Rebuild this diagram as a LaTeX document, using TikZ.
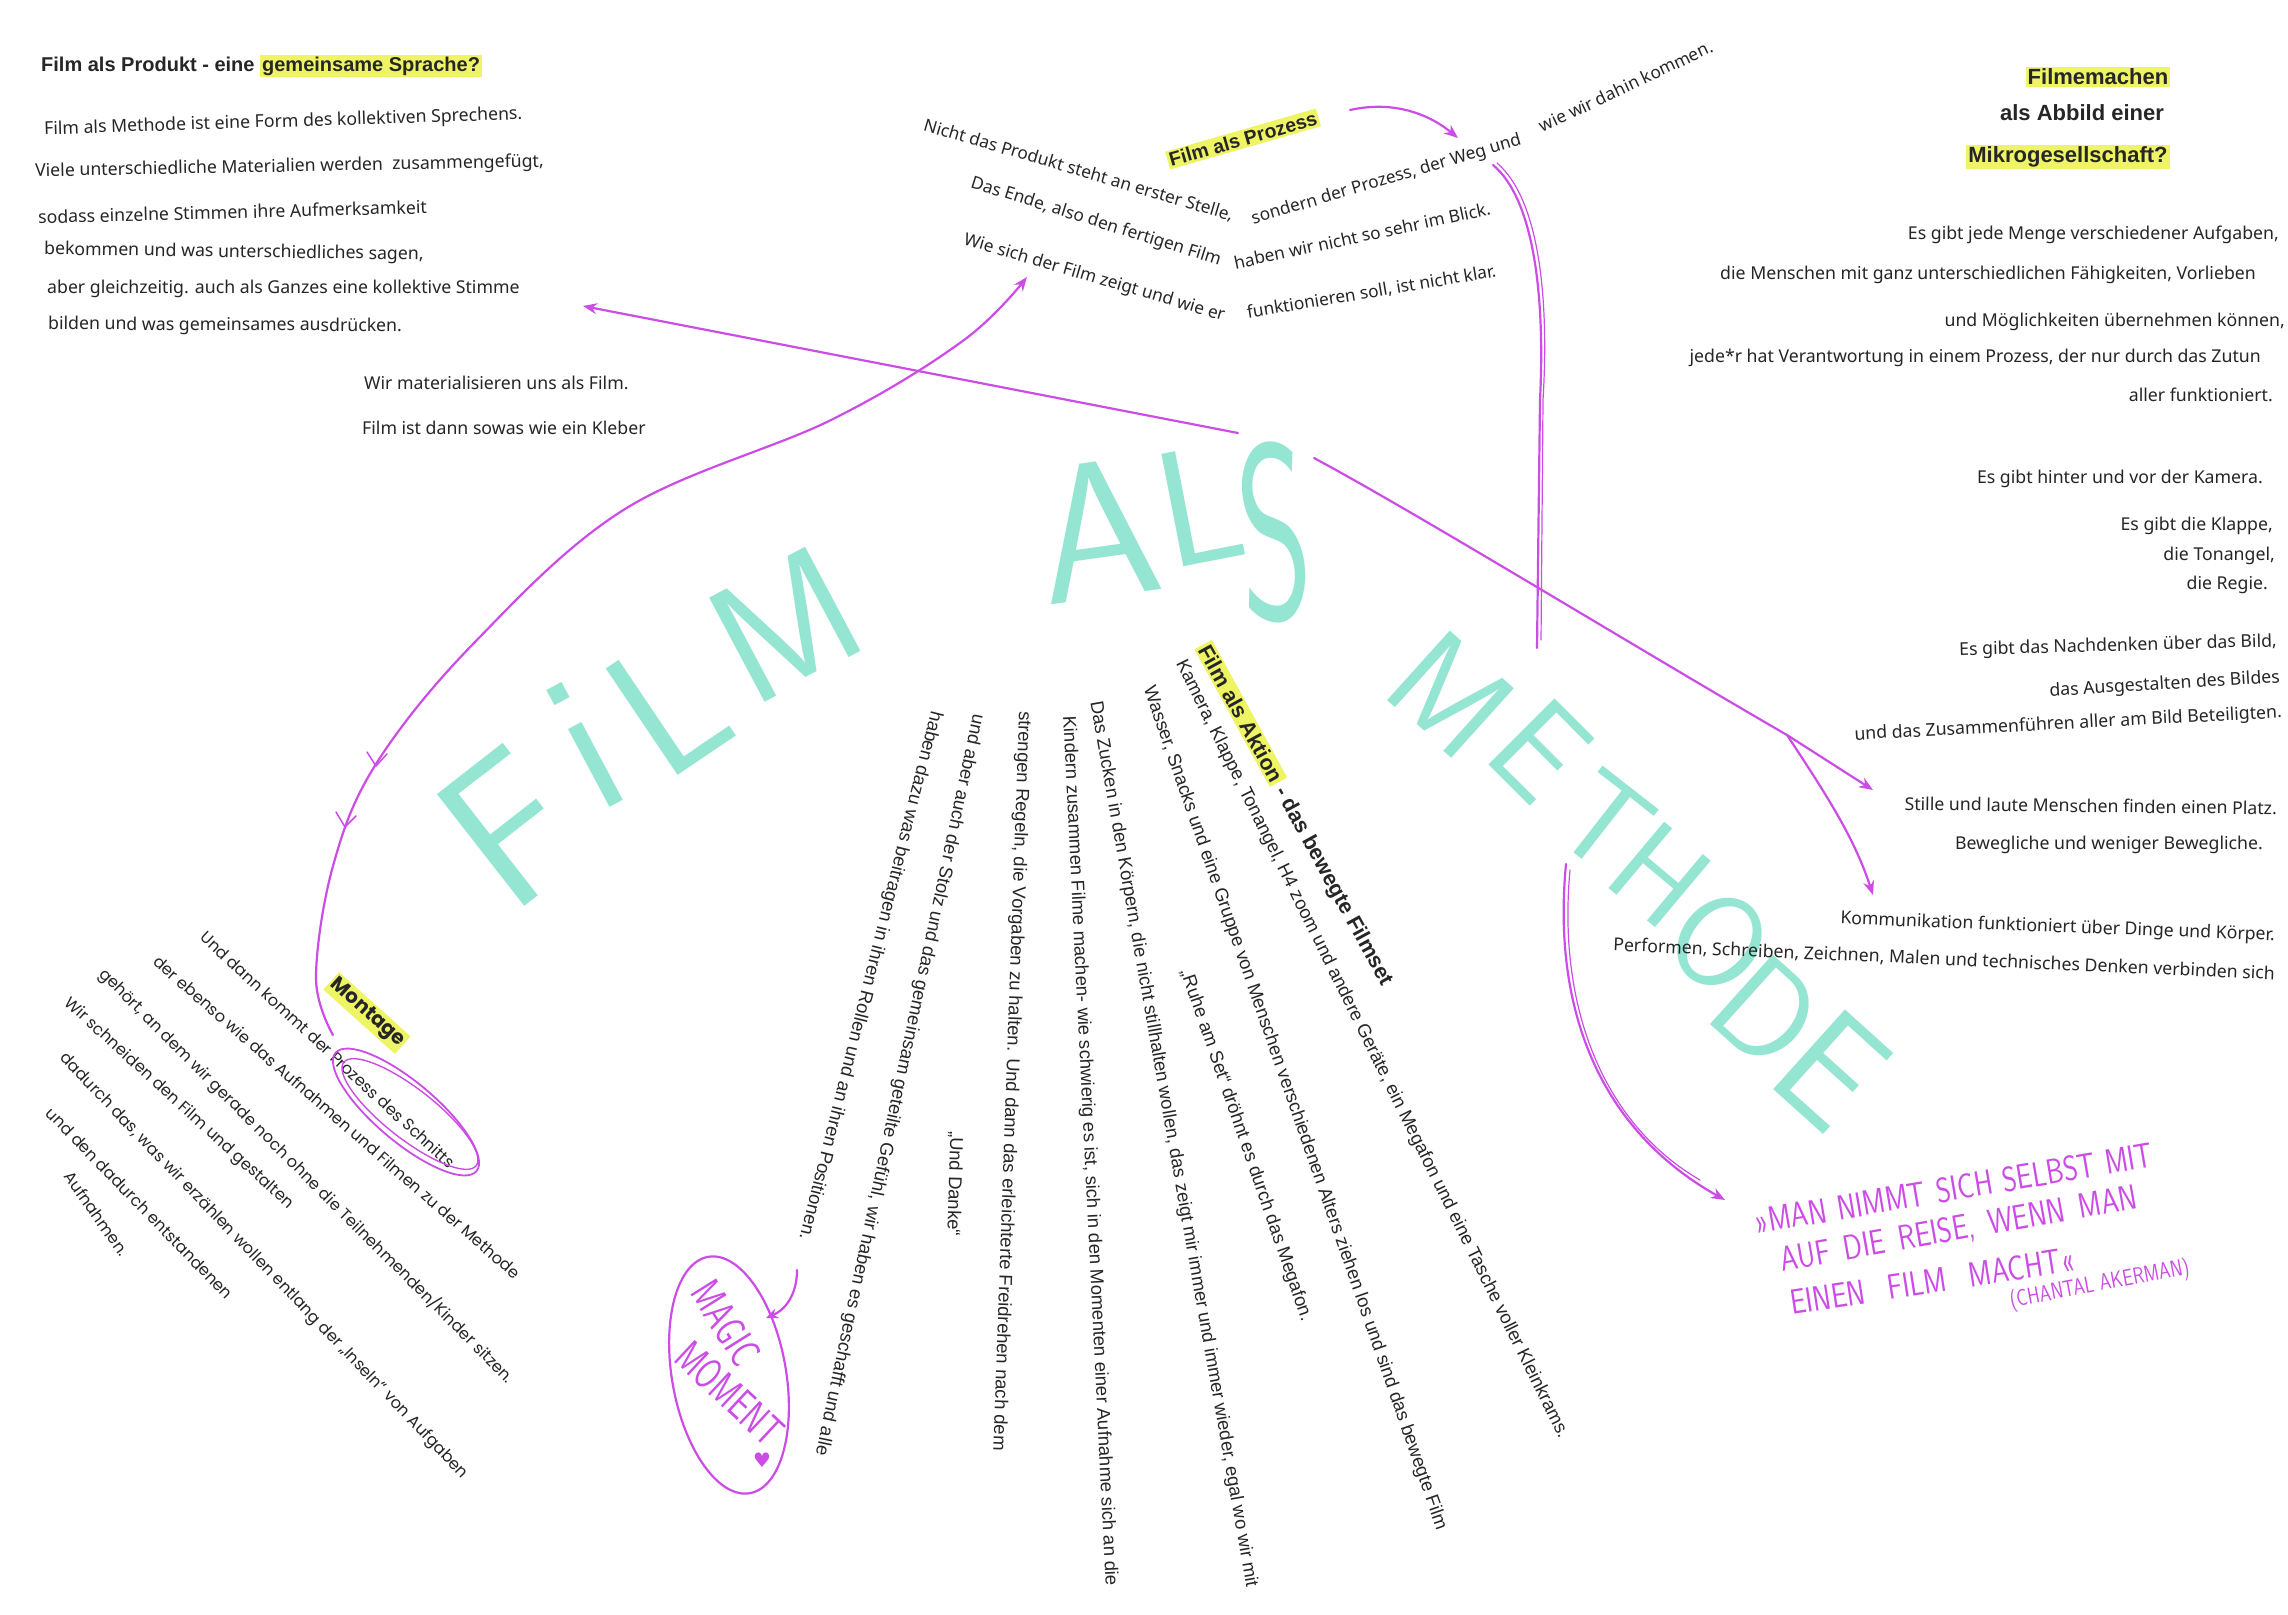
\documentclass[tikz,border=0pt]{standalone}
\usepackage{fontspec}
\usepackage{graphicx}
\setmainfont{Noto Sans}
\newfontfamily\arialf{Liberation Sans}
\newfontfamily\popf{Poppins}
\newfontfamily\dejavuf{DejaVu Sans}
\usetikzlibrary{arrows.meta}
\definecolor{ink}{HTML}{262626}
\definecolor{hl}{HTML}{EEF463}
\definecolor{mk}{HTML}{95E5D3}
\definecolor{pen}{HTML}{CC4DE6}
\newcommand{\hlbox}[1]{{\setlength{\fboxsep}{2pt}\colorbox{hl}{#1}}}
\newcommand{\bigfs}[1]{\sffamily\fontsize{#1}{#1}\selectfont}
\newcommand{\qs}[1]{\ \hspace{#1pt}}
\begin{document}
\begin{tikzpicture}[x=1pt,y=-1pt,
  tx/.style={text=ink,inner sep=0pt,font=\fontsize{17.7}{20}\selectfont},
  txb/.style={text=ink,inner sep=0pt,font=\arialf\bfseries\fontsize{20}{24}\selectfont},
  hdr/.style={text=ink,inner sep=0pt,font=\arialf\bfseries\fontsize{22}{26}\selectfont},
  pz/.style={text=ink,inner sep=0pt,font=\fontsize{17.3}{20}\selectfont},
  pzb/.style={text=ink,inner sep=0pt,font=\arialf\bfseries\fontsize{19.5}{22}\selectfont},
  mo/.style={text=ink,inner sep=0pt,font=\popf\fontsize{16.2}{19}\selectfont},
  mob/.style={text=ink,inner sep=0pt,font=\popf\bfseries\fontsize{20}{24}\selectfont},
  ak/.style={text=ink,inner sep=0pt,font=\arialf\fontsize{18.5}{21}\selectfont},
  akb/.style={text=ink,inner sep=0pt,font=\arialf\bfseries\fontsize{21.5}{24}\selectfont},
  bigl/.style={text=mk,inner sep=0pt},
  qt/.style={text=pen,inner sep=0pt,font=\sffamily\fontsize{28}{30}\selectfont},
  penline/.style={draw=pen,line width=2.2pt,line cap=round,line join=round},
  tipp/.style={-{Stealth[length=14pt,width=11pt]}}
]
\useasboundingbox (0,0) rectangle (2288,1614);
\fill[white] (0,0) rectangle (2288,1614);

% ---------- big marker letters ----------
\node[bigl,font=\bigfs{205},rotate=38] (bF) at (510,828) {F};
\node[bigl,font=\bigfs{205},rotate=28] (bI) at (585,745) {i};
\node[bigl,font=\bigfs{185},rotate=34] (bL) at (668,705) {L};
\node[bigl,font=\bigfs{170},rotate=28] (bM) at (785,625) {M};
\node[bigl,font=\bigfs{195},rotate=8] (bA) at (1097,530) {A};
\node[bigl,font=\bigfs{165},rotate=11] (bL2) at (1200,505) {L};
\node[bigl,font=\bigfs{250},rotate=4] (bS) at (1274,532) {\scalebox{0.55}[1]{S}};
\node[bigl,font=\bigfs{135},rotate=-42] (cM) at (1451,695) {M};
\node[bigl,font=\bigfs{135},rotate=-45] (cE) at (1540,750) {E};
\node[bigl,font=\bigfs{125},rotate=-38] (cT) at (1605,822) {T};
\node[bigl,font=\bigfs{125},rotate=-40] (cH) at (1660,875) {H};
\node[bigl,font=\bigfs{130},rotate=-40] (cO) at (1720,942) {O};
\node[bigl,font=\bigfs{135},rotate=-42] (cD) at (1767,1012) {D};
\node[bigl,font=\bigfs{155},rotate=-42] (cE2) at (1832,1070) {E};

% ---------- top left ----------
\node[txb,anchor=west] (h1) at (41,66) {Film als Produkt - eine \hlbox{gemeinsame Sprache?}};
\node[tx,anchor=west,rotate=1.8] (a1) at (44,130) {Film als Methode ist eine Form des kollektiven Sprechens.};
\node[tx,anchor=west,rotate=1.1] (a2) at (35,172) {Viele unterschiedliche Materialien werden\ \ zusammengefügt,};
\node[tx,anchor=west,rotate=1.5] (a3) at (38,217) {sodass einzelne Stimmen ihre Aufmerksamkeit};
\node[tx,anchor=west,rotate=-0.8] (a4) at (44,250) {bekommen und was unterschiedliches sagen,};
\node[tx,anchor=west] (a5) at (47,289) {aber gleichzeitig. auch als Ganzes eine kollektive Stimme};
\node[tx,anchor=west,rotate=-0.3] (a6) at (48,325) {bilden und was gemeinsames ausdrücken.};
\node[tx,anchor=west] (a7) at (364,383) {Wir materialisieren uns als Film.};
\node[tx,anchor=west] (a8) at (362,428) {Film ist dann sowas wie ein Kleber};

% ---------- top right ----------
\node[hdr] (r0) at (2098,77) {\hlbox{Filmemachen}};
\node[hdr] (r1) at (2082,113) {als Abbild einer};
\node[hdr] (r2) at (2068,157) {\hlbox{Mikrogesellschaft?}};
\node[tx,anchor=east] (r3) at (2279,235) {Es gibt jede Menge verschiedener Aufgaben,};
\node[tx,anchor=east] (r4) at (2256,275) {die Menschen mit ganz unterschiedlichen Fähigkeiten, Vorlieben};
\node[tx,anchor=east] (r5) at (2285,322) {und Möglichkeiten übernehmen können,};
\node[tx,anchor=east] (r6) at (2261,358) {jede*r hat Verantwortung in einem Prozess, der nur durch das Zutun};
\node[tx,anchor=east] (r7) at (2273,395) {aller funktioniert.};
\node[tx,anchor=east] (r8) at (2263,479) {Es gibt hinter und vor der Kamera.};
\node[tx,anchor=east] (r9) at (2273,526) {Es gibt die Klappe,};
\node[tx,anchor=east] (r10) at (2275,556) {die Tonangel,};
\node[tx,anchor=east] (r11) at (2268,585) {die Regie.};
\node[tx,anchor=east,rotate=1.6] (r12) at (2277,642) {Es gibt das Nachdenken über das Bild,};
\node[tx,anchor=east,rotate=3.4] (r13) at (2280,678) {das Ausgestalten des Bildes};
\node[tx,anchor=east,rotate=3] (r14) at (2282,713) {und das Zusammenführen aller am Bild Beteiligten.};
\node[tx,anchor=east,rotate=-0.7] (r15) at (2277,808) {Stille und laute Menschen finden einen Platz.};
\node[tx,anchor=east] (r16) at (2263,845) {Bewegliche und weniger Bewegliche.};
\node[tx,anchor=east,rotate=-2.2] (r17) at (2275,936) {Kommunikation funktioniert über Dinge und Körper.};
\node[tx,anchor=east,rotate=-2.5] (r18) at (2275,974) {Performen, Schreiben, Zeichnen, Malen und technisches Denken verbinden sich};

% ---------- Film als Prozess ----------
\node[pzb,rotate=16] (p0) at (1243,139) {\hlbox{Film als Prozess}};
\node[pz,anchor=west,rotate=-16.4] (p1) at (924,125) {Nicht das Produkt steht an erster Stelle,};
\node[pz,anchor=west,rotate=-17.4] (p2) at (971,183) {Das Ende, also den fertigen Film};
\node[pz,anchor=west,rotate=-16.4] (p3) at (964,240) {Wie sich der Film zeigt und wie er};
\node[pz,anchor=west,rotate=16.5] (p4) at (1252,220) {sondern der Prozess, der Weg und};
\node[pz,anchor=west,rotate=25.4] (p5) at (1540,127) {wie wir dahin kommen.};
\node[pz,anchor=west,rotate=12.1] (p6) at (1234,263) {haben wir nicht so sehr im Blick.};
\node[pz,anchor=west,rotate=9.5] (p7) at (1247,313) {funktionieren soll, ist nicht klar.};

% ---------- Montage ----------
\node[mob,rotate=-42] (m0) at (367,1013) {\hlbox{Montage}};
\node[mo,anchor=west,rotate=-42.8] (m1) at (203,934) {Und dann kommt der Prozess des Schnitts};
\node[mo,anchor=west,rotate=-41.1] (m2) at (156,959) {der ebenso wie das Aufnahmen und Filmen zu der Methode};
\node[mo,anchor=west,rotate=-45] (m3) at (102,971) {gehört, an dem wir gerade noch ohne die Teilnehmenden/Kinder sitzen.};
\node[mo,anchor=west,rotate=-42.4] (m4) at (66,1001) {Wir schneiden den Film und gestalten};
\node[mo,anchor=west,rotate=-46.2] (m5) at (62,1056) {dadurch das, was wir erzählen wollen entlang der „Inseln“ von Aufgaben};
\node[mo,anchor=west,rotate=-45.8] (m6) at (49,1110) {und den dadurch entstandenen};
\node[mo,anchor=west,rotate=-54.7] (m7) at (68,1173) {Aufnahmen.};

% ---------- Film als Aktion ----------
\node[akb,anchor=west,rotate=-61.3] (k0) at (1202,645) {\hlbox{Film als Aktion} - das bewegte Filmset};
\node[ak,anchor=west,rotate=-63.7] (k1) at (1180,661) {Kamera, Klappe, Tonangel, H4 zoom und andere Geräte, ein Megafon und eine Tasche voller Kleinkrams.};
\node[ak,anchor=west,rotate=-70.8] (k2) at (1148,687) {Wasser, Snacks und eine Gruppe von Menschen verschiedenen Alters ziehen los und sind das bewegte Film};
\node[ak,anchor=west,rotate=-70.9] (k3) at (1185,970) {„Ruhe am Set“ dröhnt es durch das Megafon.};
\node[ak,anchor=west,rotate=-80] (k4) at (1095,701) {Das Zucken in den Körpern, die nicht stillhalten wollen, das zeigt mir immer und immer wieder, egal wo wir mit};
\node[ak,anchor=west,rotate=-87.2] (k5) at (1068,716) {Kindern zusammen Filme machen- wie schwierig es ist, sich in den Momenten einer Aufnahme sich an die};
\node[ak,anchor=west,rotate=-92] (k6) at (1024,711) {strengen Regeln, die Vorgaben zu halten. Und dann das erleichterte Freidrehen nach dem};
\node[ak,anchor=west,rotate=-102] (k7) at (978,714) {und aber auch der Stolz und das gemeinsam geteilte Gefühl, wir haben es geschafft und alle};
\node[ak,anchor=west,rotate=-91.7] (k8) at (956,1131) {„Und Danke“};
\node[ak,anchor=west,rotate=-104] (k9) at (936,711) {haben dazu was beitragen in ihren Rollen und an ihren Positionen.};

% ---------- quote ----------
\node[qt,anchor=west,rotate=9.6] (q1) at (1755,1222) {\scalebox{1}[1.25]{»MAN\qs{2}NIMMT\qs{2}SICH\qs{1}SELBST\qs{1}MIT}};
\node[qt,anchor=west,rotate=10] (q2) at (1781,1261) {\scalebox{1}[1.25]{AUF\qs{5}DIE\qs{5}REISE,\qs{5}WENN\qs{5}MAN}};
\node[qt,anchor=west,rotate=8.8] (q3) at (1790,1303) {\scalebox{1}[1.25]{EINEN\qs{14}FILM\qs{14}MACHT«}};
\node[qt,anchor=west,rotate=10.7,font=\sffamily\fontsize{18.5}{20}\selectfont] (q4) at (2010,1302) {\scalebox{1}[1.25]{(CHANTAL AKERMAN)}};

% ---------- magic moment ----------
\node[qt,font=\sffamily\fontsize{31}{31}\selectfont,rotate=-58] (mg1) at (726,1323) {\scalebox{1}[1.4]{MAGIC}};
\node[qt,font=\sffamily\fontsize{31}{31}\selectfont,rotate=-43] (mg2) at (730,1394) {\scalebox{1}[1.4]{MOMENT}};
\node[text=pen,inner sep=0pt,font=\dejavuf\fontsize{20}{20}\selectfont] (hrt) at (762,1460) {♥};
\draw[penline,rotate around={-80:(729,1375)}] (729,1375) ellipse [x radius=120, y radius=57];

% ---------- connectors ----------
\coordinate (c1s) at (1238,433); \coordinate (c1e) at (583,306);
\draw[penline,tipp] (c1s) -- (c1e);

\coordinate (c2s) at (1314,458); \coordinate (c2b) at (1787,735);
\coordinate (c2e) at (1873,790); \coordinate (c2f) at (1873,895);
\draw[penline] (c2s) .. controls (1420,515) and (1640,650) .. (c2b);
\draw[penline,tipp] (c2b) -- (c2e);
\draw[penline,tipp] (c2b) .. controls (1830,800) and (1855,840) .. (c2f);

\coordinate (c3a) at (1350,110); \coordinate (c3b) at (1458,138);
\draw[penline,tipp] (c3a) .. controls (1395,100) and (1430,115) .. (c3b);
\coordinate (c3c) at (1493,165); \coordinate (c3d) at (1537,648);
\draw[penline] (c3c) .. controls (1535,200) and (1545,300) .. (1540,400) -- (c3d);
\draw[penline,line width=1.2pt] (1497,163) .. controls (1540,200) and (1549,300) .. (1543,400) -- (1541,640);

\coordinate (c4s) at (1566,864); \coordinate (c4e) at (1725,1200);
\draw[penline,tipp] (c4s) .. controls (1552,1010) and (1600,1130) .. (c4e);
\draw[penline,line width=1.2pt] (1570,870) .. controls (1557,1010) and (1605,1125) .. (1700,1180);

\coordinate (c5s) at (333,1035); \coordinate (c5e) at (1027,277);
\draw[penline,tipp] plot[smooth,tension=0.6] coordinates {(c5s) (316,978) (333,866) (376,764) (474,643) (625,509) (831,420) (964,340) (c5e)};
\draw[penline,line width=1.5pt] (367,752) -- (376,766) -- (387,754);
\draw[penline,line width=1.5pt] (336,812) -- (345,827) -- (356,816);

\draw[penline,line width=1.8pt,rotate around={-40:(406,1112)}] (406,1112) ellipse [x radius=92, y radius=30];
\draw[penline,line width=1.4pt,rotate around={-38:(410,1114)}] (410,1114) ellipse [x radius=84, y radius=25];

\coordinate (c6s) at (797,1270); \coordinate (c6e) at (766,1318);
\draw[penline,-{Stealth[length=12pt,width=10pt]}] (c6s) .. controls (797,1295) and (785,1310) .. (c6e);
\end{tikzpicture}
\end{document}
